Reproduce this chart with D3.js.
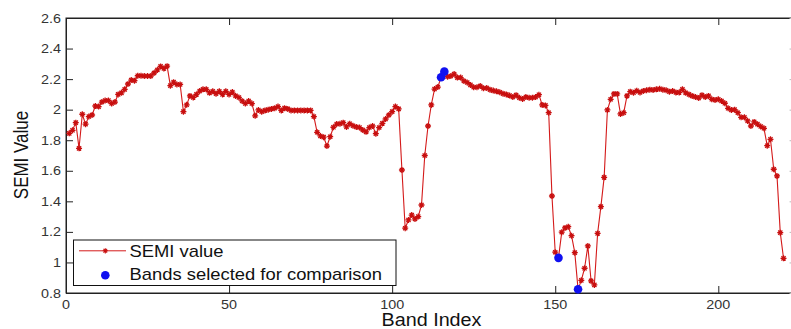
<!DOCTYPE html>
<html>
<head>
<meta charset="utf-8">
<script src="https://cdn.jsdelivr.net/npm/d3@7"></script>
<style>
  html, body { margin: 0; padding: 0; background: #fff; }
  svg { display: block; font-family: "Liberation Sans", Arial, sans-serif; }
</style>
</head>
<body>
<div id="chart"></div>
<script>
// SEMI value per band, bands 1..220
const semiValues = [
  1.845, 1.865, 1.915, 1.747, 1.970, 1.905, 1.955, 1.965, 2.024, 2.020,
  2.050, 2.060, 2.060, 2.040, 2.050, 2.100, 2.110, 2.133, 2.168, 2.194,
  2.190, 2.222, 2.222, 2.220, 2.220, 2.220, 2.240, 2.260, 2.283, 2.270,
  2.285, 2.157, 2.180, 2.165, 2.165, 1.987, 2.032, 2.090, 2.080, 2.100,
  2.122, 2.133, 2.133, 2.110, 2.120, 2.105, 2.120, 2.100, 2.120, 2.100,
  2.115, 2.090, 2.080, 2.057, 2.040, 2.057, 2.040, 1.960, 1.998, 1.987,
  1.995, 2.000, 2.005, 2.010, 2.020, 1.995, 2.010, 2.005, 1.995, 1.995,
  1.995, 1.995, 1.995, 1.995, 1.995, 1.955, 1.852, 1.828, 1.820, 1.762,
  1.823, 1.885, 1.906, 1.908, 1.915, 1.887, 1.908, 1.895, 1.887, 1.883,
  1.867, 1.855, 1.883, 1.893, 1.843, 1.883, 1.910, 1.939, 1.965, 1.987,
  2.020, 2.005, 1.605, 1.224, 1.278, 1.310, 1.285, 1.300, 1.376, 1.700,
  1.893, 2.031, 2.135, 2.148, 2.212, 2.249, 2.216, 2.220, 2.233, 2.210,
  2.210, 2.188, 2.178, 2.162, 2.147, 2.147, 2.155, 2.140, 2.142, 2.131,
  2.125, 2.120, 2.114, 2.105, 2.100, 2.093, 2.083, 2.095, 2.078, 2.070,
  2.083, 2.078, 2.078, 2.083, 2.098, 2.031, 2.028, 1.980, 1.435, 1.067,
  1.030, 1.198, 1.226, 1.234, 1.175, 1.064, 0.824, 0.883, 0.962, 1.108,
  0.879, 0.853, 1.190, 1.365, 1.557, 1.998, 2.068, 2.103, 2.103, 1.972,
  1.980, 2.090, 2.118, 2.111, 2.124, 2.113, 2.122, 2.127, 2.131, 2.129,
  2.133, 2.137, 2.131, 2.127, 2.118, 2.122, 2.113, 2.113, 2.133, 2.110,
  2.100, 2.090, 2.083, 2.076, 2.095, 2.083, 2.090, 2.068, 2.063, 2.068,
  2.057, 2.042, 2.009, 1.998, 2.000, 1.980, 1.950, 1.950, 1.926, 1.893,
  1.920, 1.905, 1.890, 1.878, 1.764, 1.806, 1.610, 1.566, 1.195, 1.027
];
const bandIndex = semiValues.map((v, i) => i + 1);
const selectedBands = [115, 116, 151, 157];

const xTicks = [0, 50, 100, 150, 200];
const yTicks = [0.8, 1, 1.2, 1.4, 1.6, 1.8, 2, 2.2, 2.4, 2.6];
const legendLabels = ['SEMI value', 'Bands selected for comparison'];

const W = 791, H = 329;
const mLeft = 66, mTop = 18, mBottom = 293;
const pxPerBand = 3.2615;
const xMax = 224;
const mRight = mLeft + xMax * pxPerBand;
const stretch = 1.15; // figure was widened horizontally

const red = '#d41a1a', markRed = '#c80f0f', blue = '#1010f0';

const svg = d3.select('#chart').append('svg')
  .attr('width', W).attr('height', H);

const x = d3.scaleLinear().domain([0, xMax]).range([mLeft, mRight]);
const y = d3.scaleLinear().domain([0.8, 2.6]).range([mBottom, mTop]);

// plot box
svg.append('rect')
  .attr('x', mLeft).attr('y', mTop)
  .attr('width', mRight - mLeft).attr('height', mBottom - mTop)
  .attr('fill', '#fff').attr('stroke', '#222').attr('stroke-width', 1);

const fmt = d => String(+d.toFixed(1));

// ticks inside the box, on all four sides
const tk = 7;
const axB = svg.append('g').attr('transform', `translate(0,${mBottom})`)
  .call(d3.axisBottom(x).tickValues(xTicks).tickSizeInner(-tk).tickSizeOuter(0).tickFormat(''));
const axT = svg.append('g').attr('transform', `translate(0,${mTop})`)
  .call(d3.axisTop(x).tickValues(xTicks).tickSizeInner(-tk).tickSizeOuter(0).tickFormat(''));
const axL = svg.append('g').attr('transform', `translate(${mLeft},0)`)
  .call(d3.axisLeft(y).tickValues(yTicks).tickSizeInner(-tk).tickSizeOuter(0).tickFormat(''));
const axR = svg.append('g').attr('transform', `translate(${mRight},0)`)
  .call(d3.axisRight(y).tickValues(yTicks).tickSizeInner(-tk).tickSizeOuter(0).tickFormat(''));
[axB, axT, axL].forEach(a => {
  a.select('.domain').attr('stroke', '#222');
  a.selectAll('.tick line').attr('stroke', '#222');
});
axR.selectAll('.tick line').attr('stroke', '#bbb');

// tick labels (stretched to match the figure)
svg.append('g').selectAll('text').data(xTicks).join('text')
  .attr('transform', d => `translate(${x(d)},308.5) scale(${stretch},1)`)
  .attr('text-anchor', 'middle')
  .attr('font-size', 12.5).attr('fill', '#333')
  .text(fmt);

svg.append('g').selectAll('text').data(yTicks).join('text')
  .attr('transform', d => `translate(61,${y(d) + 4.5}) scale(${stretch},1)`)
  .attr('text-anchor', 'end')
  .attr('font-size', 12.5).attr('fill', '#333')
  .text(fmt);

// axis titles
svg.append('text')
  .attr('transform', `translate(431.5,326) scale(1.13,1)`)
  .attr('text-anchor', 'middle')
  .attr('font-size', 17.5).attr('fill', '#111')
  .text('Band Index');

svg.append('text')
  .attr('transform', `translate(27.5,155) rotate(-90) scale(1,${stretch})`)
  .attr('text-anchor', 'middle')
  .attr('font-size', 17).attr('fill', '#111')
  .text('SEMI Value');

// data series
const pts = bandIndex.map((b, i) => [b, semiValues[i]]);
const line = d3.line().x(d => x(d[0])).y(d => y(d[1]));

const plot = svg.append('g');
plot.append('path')
  .datum(pts)
  .attr('fill', 'none')
  .attr('stroke', red)
  .attr('stroke-width', 1.1)
  .attr('d', line);

const star = s => `M${-s},0H${s}M0,${-s}V${s}M${-s * 0.7},${-s * 0.7}L${s * 0.7},${s * 0.7}M${-s * 0.7},${s * 0.7}L${s * 0.7},${-s * 0.7}`;

plot.append('g').selectAll('path').data(pts).join('path')
  .attr('transform', d => `translate(${x(d[0])},${y(d[1])})`)
  .attr('d', star(3))
  .attr('stroke', markRed)
  .attr('stroke-width', 1.3)
  .attr('fill', 'none');

plot.append('g').selectAll('circle').data(selectedBands).join('circle')
  .attr('cx', b => x(b))
  .attr('cy', b => y(semiValues[b - 1]))
  .attr('r', 4.3)
  .attr('fill', blue);

// legend
const lg = svg.append('g');
lg.append('rect')
  .attr('x', 73.5).attr('y', 240)
  .attr('width', 322.5).attr('height', 45.5)
  .attr('fill', '#fff').attr('stroke', '#111').attr('stroke-width', 1);
lg.append('line')
  .attr('x1', 79).attr('x2', 126).attr('y1', 250.8).attr('y2', 250.8)
  .attr('stroke', red).attr('stroke-width', 1);
lg.append('path')
  .attr('transform', 'translate(105.3,250.8)')
  .attr('d', star(2.6))
  .attr('stroke', markRed).attr('stroke-width', 1.1);
lg.append('circle')
  .attr('cx', 105.3).attr('cy', 275.3).attr('r', 4.3)
  .attr('fill', blue);
lg.selectAll('text.lbl').data(legendLabels).join('text')
  .attr('class', 'lbl')
  .attr('transform', (d, i) => `translate(129.5,${256.7 + i * 23.3}) scale(${stretch},1)`)
  .attr('font-size', 16).attr('fill', '#111')
  .text(d => d);
</script>
</body>
</html>
